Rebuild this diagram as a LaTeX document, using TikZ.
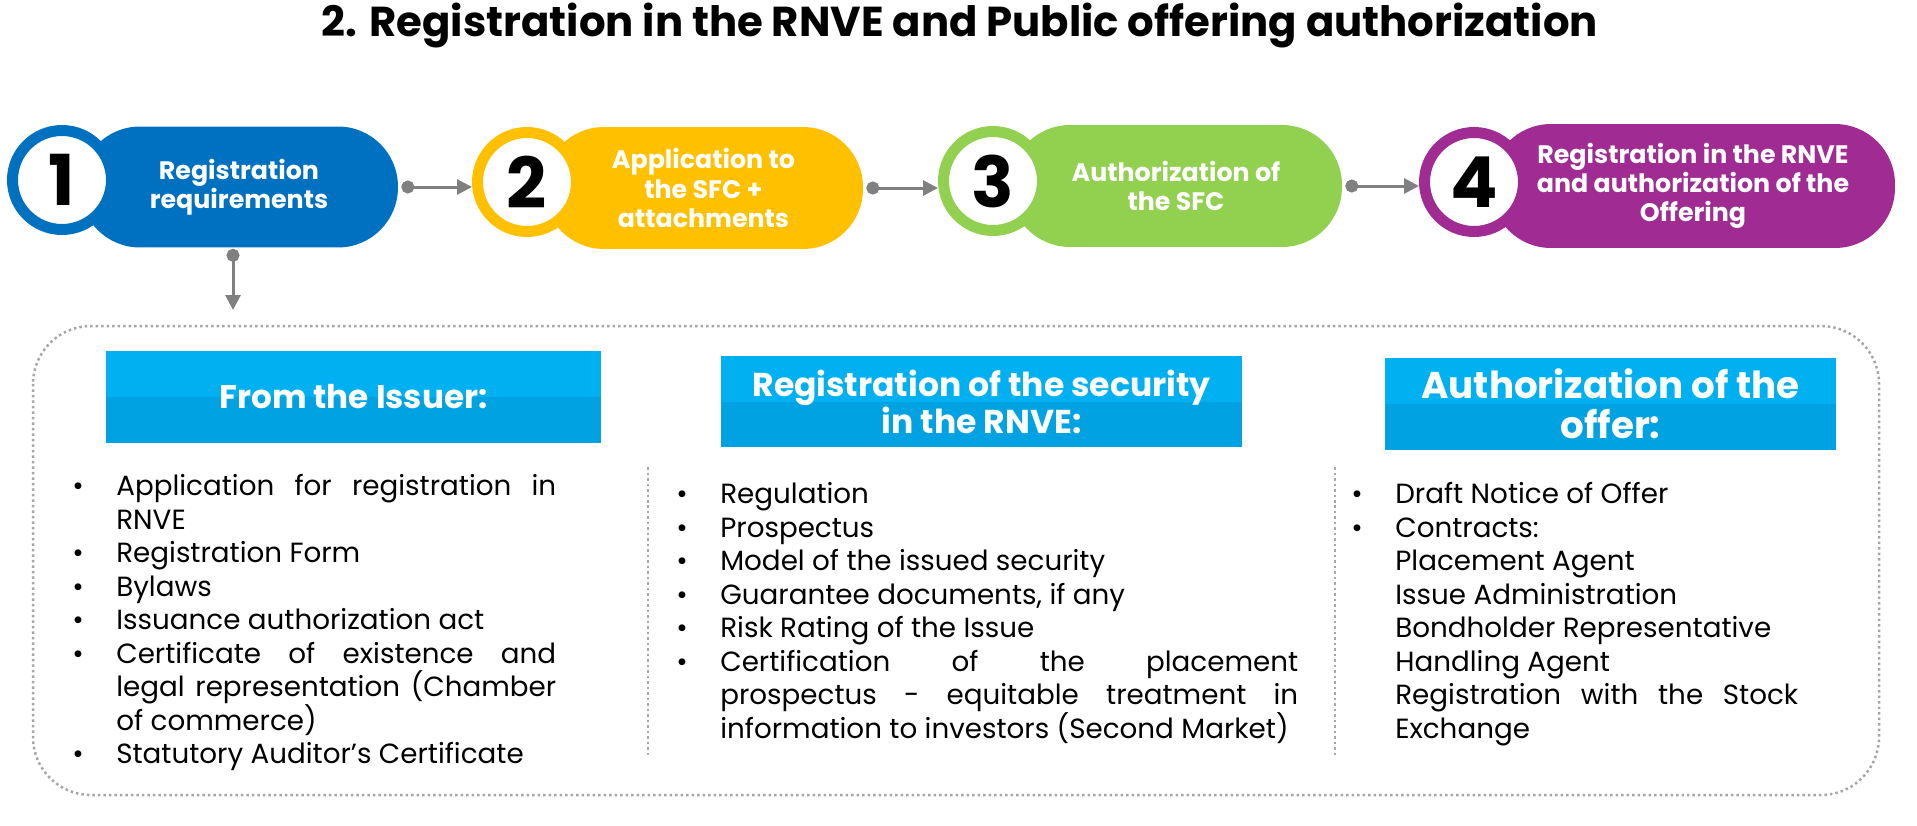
\documentclass[tikz,border=0pt]{standalone}
\usepackage{fontspec}
\setmainfont{Poppins}
\usetikzlibrary{arrows.meta}

\definecolor{stepblue}{HTML}{0070C0}
\definecolor{stepyellow}{HTML}{FFC000}
\definecolor{stepgreen}{HTML}{92D050}
\definecolor{steppurple}{HTML}{A02B93}
\definecolor{headtop}{HTML}{00B0F0}
\definecolor{headbot}{HTML}{00A2E2}
\definecolor{linkgray}{HTML}{808080}
\definecolor{framegray}{HTML}{A6A6A6}

% bullet line and indented line of the lists
\newcommand{\bitem}{\par\noindent\hangindent=0.88cm\hangafter=1\makebox[0.88cm][l]{\textbullet}}
\newcommand{\subline}{\par\noindent\hangindent=0.88cm\hangafter=0}

\begin{document}
\begin{tikzpicture}[x=0.02cm, y=-0.02cm,
    stepbody/.style={rounded corners=1.2cm, text=white, align=center, inner sep=0pt,
        font=\fontsize{14.4}{16.6}\selectfont\bfseries},
    numring/.style={circle, fill=white, line width=0.22cm, minimum size=1.98cm, inner sep=0pt,
        font=\fontsize{40}{40}\selectfont\bfseries},
    link/.style={draw=linkgray, line width=0.06cm,
        {Circle[length=0.26cm]}-{Triangle[length=0.3cm, width=0.3cm]}},
    dotline/.style={draw=framegray, line width=0.05cm, dash pattern=on 0.05cm off 0.06cm},
    headbox/.style={fill=headbot, text=white, align=center, inner sep=0pt,
        path picture={\fill[headtop] (path picture bounding box.north west)
            rectangle (path picture bounding box.east);}},
    listtext/.style={align=justify, inner sep=0pt, anchor=base west,
        font=\fontsize{15.8}{19.07}\selectfont}]

    \useasboundingbox (0,0) rectangle (1917,825);

    \node[font=\fontsize{23.8}{28}\selectfont\bfseries] (title) at (960,26)
        {2. Registration in the RNVE and Public offering authorization};

    % steps
    \node[stepbody, fill=stepblue, minimum width=6.36cm, minimum height=2.42cm] (b1) at (239,187) {Registration\\requirements};
    \node[numring, draw=stepblue] (c1) at (62,180) {1};

    \node[stepbody, fill=stepyellow, minimum width=6.38cm, minimum height=2.44cm] (b2) at (703.5,188) {Application to\\the SFC +\\attachments};
    \node[numring, draw=stepyellow] (c2) at (527,182) {2};

    \node[stepbody, fill=stepgreen, minimum width=6.64cm, minimum height=2.44cm] (b3) at (1176,186) {Authorization of\\the SFC};
    \node[numring, draw=stepgreen] (c3) at (993,181) {3};

    \node[stepbody, fill=steppurple, minimum width=8.08cm, minimum height=2.48cm] (b4) at (1693,186) {Registration in the RNVE\\and authorization of the\\Offering};
    \node[numring, draw=steppurple] (c4) at (1474,182) {4};

    \draw[link] ([xshift=0.06cm]b1.east) -- (c2.west |- b1.east);
    \draw[link] ([xshift=0.06cm]b2.east) -- (c3.west |- b2.east);
    \draw[link] ([xshift=0.06cm]b3.east) -- (c4.west |- b3.east);

    \coordinate (drop) at (233,310);
    \coordinate (droptop) at (b1.south -| drop);
    \draw[link] ([yshift=-0.02cm]droptop) -- (drop);

    % requirements frame
    \draw[dotline, rounded corners=1.16cm] (33,326) rectangle (1879,795);
    \draw[dotline] (648,467) -- (648,758);
    \draw[dotline] (1335,467) -- (1335,758);

    \node[headbox, minimum width=9.9cm, minimum height=1.84cm, font=\fontsize{18.6}{21}\selectfont\bfseries] (h1) at (353.5,397) {From the Issuer:};
    \node[headbox, minimum width=10.42cm, minimum height=1.82cm, font=\fontsize{18.8}{21}\selectfont\bfseries] (h2) at (981.5,401.5) {Registration of the security\\in the RNVE:};
    \node[headbox, minimum width=9.02cm, minimum height=1.84cm, font=\fontsize{21.2}{23}\selectfont\bfseries] (h3) at (1610.5,404) {Authorization of the\\offer:};

    \node[listtext, text width=9.68cm] (l1) at (72,462) {%
        \bitem Application for registration in\linebreak RNVE
        \bitem Registration Form
        \bitem Bylaws
        \bitem Issuance authorization act
        \bitem Certificate of existence and\linebreak legal representation (Chamber\linebreak of commerce)
        \bitem Statutory Auditor's Certificate\par};

    \node[listtext, text width=12.44cm] (l2) at (676,470) {%
        \bitem Regulation
        \bitem Prospectus
        \bitem Model of the issued security
        \bitem Guarantee documents, if any
        \bitem Risk Rating of the Issue
        \bitem Certification of the placement\linebreak prospectus - equitable treatment in\linebreak \mbox{information to investors (Second Market)}\par};

    \node[listtext, text width=8.94cm] (l3) at (1351,470) {%
        \bitem Draft Notice of Offer
        \bitem Contracts:
        \subline Placement Agent
        \subline Issue Administration
        \subline Bondholder Representative
        \subline Handling Agent
        \subline Registration with the Stock\linebreak Exchange\par};

\end{tikzpicture}
\end{document}
